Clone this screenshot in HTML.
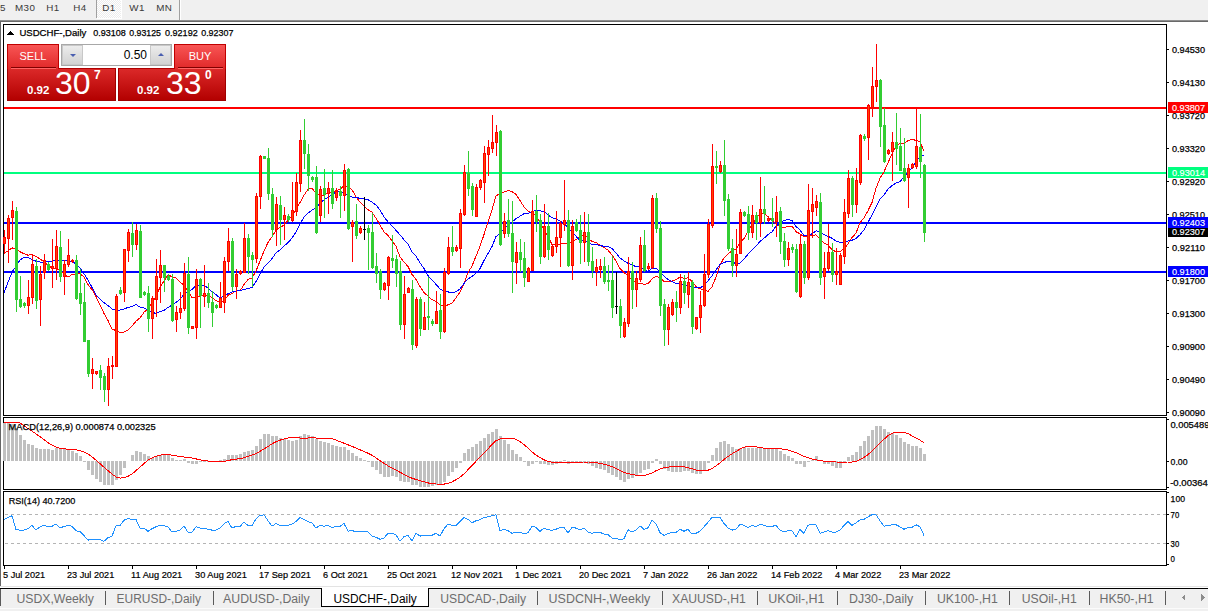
<!DOCTYPE html><html><head><meta charset="utf-8"><style>
*{margin:0;padding:0;box-sizing:border-box}
html,body{width:1208px;height:611px;overflow:hidden;background:#fff}
body{position:relative;font-family:"Liberation Sans",sans-serif}
svg{position:absolute;left:0;top:0}
svg text{font-family:"Liberation Sans",sans-serif}
#tp div{position:absolute}
.sellt{z-index:2;left:7px;top:44px;width:52px;height:25px;background:linear-gradient(#f85555,#e02828);border:1px solid #c00000;border-bottom:none}
.buyt{z-index:2;left:174px;top:44px;width:52px;height:25px;background:linear-gradient(#f85555,#e02828);border:1px solid #c00000;border-bottom:none}
.sellt span,.buyt span{position:absolute;left:0;right:0;top:5px;text-align:center;color:#fff;font-size:11px;line-height:13px}

.sellb{left:7px;top:68px;width:109px;height:33px;background:linear-gradient(#dc2a2a,#b30000);border:1px solid #a00000;border-top:none}
.buyb{left:118px;top:68px;width:108px;height:33px;background:linear-gradient(#dc2a2a,#b30000);border:1px solid #a00000;border-top:none}
.ln{height:1px}
.sm{position:absolute;color:#fff;font-weight:bold;font-size:11.5px;top:16px}
.big{position:absolute;color:#fff;font-size:32px;top:-1px;line-height:32px}
.sup{position:absolute;color:#fff;font-size:12px;font-weight:bold;top:0px}
.sellb .sm{left:19px}.sellb .big{left:47px}.sellb .sup{left:86px}
.buyb .sm{left:18px}.buyb .big{left:47px}.buyb .sup{left:86px}
.lot{left:61px;top:44px;width:111px;height:22px;background:#fff;border:1px solid #a8a8a8}
.dn,.up{top:0;width:21px;height:20px;background:linear-gradient(#ececec,#d2d2d2);border:1px solid #c8c8c8}
.dn{left:0}.up{right:0}
.dn i,.up i{position:absolute;left:7px;top:8px;width:0;height:0;border-left:3px solid transparent;border-right:3px solid transparent}
.dn i{border-top:3px solid #4a5fb0}.up i{border-bottom:3px solid #4a5fb0;top:7px}
.val{right:24px;top:3px;font-size:12px;color:#000}
</style></head><body>
<svg width="1208" height="611" viewBox="0 0 1208 611" shape-rendering="crispEdges">
<rect x="0" y="0" width="1208" height="20" fill="#f0f0f0"/>
<rect x="0" y="20" width="1208" height="1" fill="#8f8f8f"/>
<rect x="0" y="21" width="1208" height="1" fill="#696969"/>
<defs><pattern id="chk" x="0" y="0" width="2" height="2" patternUnits="userSpaceOnUse"><rect width="2" height="2" fill="#ececec"/><rect width="1" height="1" fill="#fff"/><rect x="1" y="1" width="1" height="1" fill="#fff"/></pattern></defs>
<rect x="97" y="0" width="24" height="18" fill="url(#chk)"/>
<rect x="121" y="0" width="1" height="19" fill="#ffffff"/>
<rect x="97" y="18" width="25" height="1" fill="#ffffff"/>
<rect x="96" y="0" width="1" height="18" fill="#a0a0a0"/>
<rect x="179" y="0" width="1" height="20" fill="#a0a0a0"/>
<rect x="180" y="0" width="1" height="20" fill="#ffffff"/>
<text x="-0.09999999999999998" y="11.2" font-size="9.8" fill="#3a3a3a" stroke="#3a3a3a" stroke-width="0" letter-spacing="0.4">5</text>
<text x="15.0" y="11.2" font-size="9.8" fill="#3a3a3a" stroke="#3a3a3a" stroke-width="0" letter-spacing="0.4">M30</text>
<text x="46.199999999999996" y="11.2" font-size="9.8" fill="#3a3a3a" stroke="#3a3a3a" stroke-width="0" letter-spacing="0.4">H1</text>
<text x="73.2" y="11.2" font-size="9.8" fill="#3a3a3a" stroke="#3a3a3a" stroke-width="0" letter-spacing="0.4">H4</text>
<text x="102.2" y="11.2" font-size="9.8" fill="#3a3a3a" stroke="#3a3a3a" stroke-width="0" letter-spacing="0.4">D1</text>
<text x="129.3" y="11.2" font-size="9.8" fill="#3a3a3a" stroke="#3a3a3a" stroke-width="0" letter-spacing="0.4">W1</text>
<text x="156.20000000000002" y="11.2" font-size="9.8" fill="#3a3a3a" stroke="#3a3a3a" stroke-width="0" letter-spacing="0.4">MN</text>
<rect x="0" y="22" width="1" height="564" fill="#666666"/>
<rect x="3" y="24" width="1164" height="1" fill="#000"/>
<rect x="3" y="415" width="1164" height="1" fill="#000"/>
<rect x="3" y="24" width="1" height="392" fill="#000"/>
<rect x="1166" y="24" width="1" height="392" fill="#000"/>
<rect x="3" y="417" width="1164" height="1" fill="#000"/>
<rect x="3" y="489" width="1164" height="1" fill="#000"/>
<rect x="3" y="417" width="1" height="73" fill="#000"/>
<rect x="1166" y="417" width="1" height="73" fill="#000"/>
<rect x="3" y="491" width="1164" height="1" fill="#000"/>
<rect x="3" y="565" width="1164" height="1" fill="#000"/>
<rect x="3" y="491" width="1" height="75" fill="#000"/>
<rect x="1166" y="491" width="1" height="75" fill="#000"/>
<rect x="1167" y="49" width="2" height="1" fill="#000"/>
<text x="1172" y="53" font-size="9.6" fill="#000" stroke="#000" stroke-width="0.25" textLength="33" lengthAdjust="spacingAndGlyphs">0.94530</text>
<rect x="1167" y="82" width="2" height="1" fill="#000"/>
<text x="1172" y="86" font-size="9.6" fill="#000" stroke="#000" stroke-width="0.25" textLength="33" lengthAdjust="spacingAndGlyphs">0.94130</text>
<rect x="1167" y="115" width="2" height="1" fill="#000"/>
<text x="1172" y="119" font-size="9.6" fill="#000" stroke="#000" stroke-width="0.25" textLength="33" lengthAdjust="spacingAndGlyphs">0.93720</text>
<rect x="1167" y="148" width="2" height="1" fill="#000"/>
<text x="1172" y="152" font-size="9.6" fill="#000" stroke="#000" stroke-width="0.25" textLength="33" lengthAdjust="spacingAndGlyphs">0.93320</text>
<rect x="1167" y="181" width="2" height="1" fill="#000"/>
<text x="1172" y="185" font-size="9.6" fill="#000" stroke="#000" stroke-width="0.25" textLength="33" lengthAdjust="spacingAndGlyphs">0.92920</text>
<rect x="1167" y="214" width="2" height="1" fill="#000"/>
<text x="1172" y="218" font-size="9.6" fill="#000" stroke="#000" stroke-width="0.25" textLength="33" lengthAdjust="spacingAndGlyphs">0.92510</text>
<rect x="1167" y="247" width="2" height="1" fill="#000"/>
<text x="1172" y="251" font-size="9.6" fill="#000" stroke="#000" stroke-width="0.25" textLength="33" lengthAdjust="spacingAndGlyphs">0.92110</text>
<rect x="1167" y="280" width="2" height="1" fill="#000"/>
<text x="1172" y="284" font-size="9.6" fill="#000" stroke="#000" stroke-width="0.25" textLength="33" lengthAdjust="spacingAndGlyphs">0.91700</text>
<rect x="1167" y="313" width="2" height="1" fill="#000"/>
<text x="1172" y="317" font-size="9.6" fill="#000" stroke="#000" stroke-width="0.25" textLength="33" lengthAdjust="spacingAndGlyphs">0.91300</text>
<rect x="1167" y="346" width="2" height="1" fill="#000"/>
<text x="1172" y="350" font-size="9.6" fill="#000" stroke="#000" stroke-width="0.25" textLength="33" lengthAdjust="spacingAndGlyphs">0.90900</text>
<rect x="1167" y="379" width="2" height="1" fill="#000"/>
<text x="1172" y="383" font-size="9.6" fill="#000" stroke="#000" stroke-width="0.25" textLength="33" lengthAdjust="spacingAndGlyphs">0.90490</text>
<rect x="1167" y="412" width="2" height="1" fill="#000"/>
<text x="1172" y="416" font-size="9.6" fill="#000" stroke="#000" stroke-width="0.25" textLength="33" lengthAdjust="spacingAndGlyphs">0.90090</text>
<rect x="4" y="107" width="1162" height="2" fill="#ff0000"/>
<rect x="4" y="172" width="1162" height="2" fill="#00ff7f"/>
<rect x="4" y="222" width="1162" height="2" fill="#0000ff"/>
<rect x="4" y="271" width="1162" height="2" fill="#0000ff"/>
<rect x="1168" y="102" width="40" height="11" fill="#ff0000"/>
<text x="1172" y="111" font-size="9.6" fill="#fff" stroke="#fff" stroke-width="0.15" textLength="33" lengthAdjust="spacingAndGlyphs">0.93807</text>
<rect x="1168" y="167" width="40" height="11" fill="#00ff7f"/>
<text x="1172" y="176" font-size="9.6" fill="#fff" stroke="#fff" stroke-width="0.15" textLength="33" lengthAdjust="spacingAndGlyphs">0.93014</text>
<rect x="1168" y="226" width="40" height="11" fill="#000000"/>
<text x="1172" y="235" font-size="9.6" fill="#fff" stroke="#fff" stroke-width="0.15" textLength="33" lengthAdjust="spacingAndGlyphs">0.92307</text>
<rect x="1168" y="217" width="40" height="11" fill="#0000ff"/>
<text x="1172" y="226" font-size="9.6" fill="#fff" stroke="#fff" stroke-width="0.15" textLength="33" lengthAdjust="spacingAndGlyphs">0.92403</text>
<rect x="1168" y="266" width="40" height="11" fill="#0000ff"/>
<text x="1172" y="275" font-size="9.6" fill="#fff" stroke="#fff" stroke-width="0.15" textLength="33" lengthAdjust="spacingAndGlyphs">0.91800</text>
<polyline points="4,253.5 8,250.9 12,247.8 16,249.2 20,251.8 24,253.7 28,255.2 32,254.4 36,256.3 40,258.9 44,261.9 48,265.3 52,268.1 56,268.0 60,270.7 64,274.0 68,277.2 72,274.4 76,273.9 80,273.7 84,276.9 88,284.6 92,289.6 96,296.5 100,304.9 104,313.4 108,320.6 112,329.1 116,330.5 120,332.6 124,332.1 128,330.1 132,326.3 136,321.1 140,317.9 144,312.3 148,308.6 152,303.4 156,296.2 160,287.4 164,281.0 168,274.9 172,276.6 176,277.9 180,282.1 184,285.1 188,291.0 192,297.9 196,296.6 200,296.6 204,294.9 208,295.1 212,297.7 216,300.7 220,302.2 224,300.9 228,295.3 232,293.4 236,291.0 240,290.9 244,284.5 248,279.5 252,278.1 256,271.0 260,261.2 264,250.9 268,242.4 272,236.9 276,230.1 280,227.1 284,225.3 288,220.5 292,215.9 296,209.6 300,202.6 304,195.2 308,189.2 312,188.0 316,193.4 320,195.6 324,195.7 328,192.8 332,192.7 336,190.7 340,189.3 344,185.8 348,187.1 352,189.9 356,196.7 360,202.1 364,205.9 368,209.7 372,212.2 376,218.2 380,225.0 384,231.8 388,235.6 392,240.6 396,246.1 400,257.1 404,261.9 408,266.6 412,274.4 416,279.4 420,286.5 424,292.6 428,296.1 432,299.7 436,301.3 440,304.7 444,305.8 448,304.9 452,303.3 456,297.8 460,292.0 464,283.7 468,272.6 472,266.1 476,256.1 480,246.3 484,234.6 488,222.0 492,209.9 496,195.7 500,193.7 504,191.9 508,190.6 512,191.6 516,194.4 520,200.6 524,206.9 528,211.1 532,212.9 536,215.8 540,223.1 544,228.8 548,236.4 552,244.6 556,244.1 560,244.2 564,243.3 568,243.6 572,241.7 576,239.6 580,237.1 584,234.6 588,238.1 592,241.6 596,242.4 600,245.3 604,247.6 608,250.1 612,255.1 616,261.0 620,268.5 624,272.6 628,275.8 632,280.0 636,282.6 640,283.5 644,284.1 648,283.9 652,278.9 656,276.2 660,277.9 664,281.4 668,281.4 672,281.1 676,279.8 680,276.9 684,278.4 688,277.9 692,281.3 696,286.4 700,288.9 704,289.5 708,291.4 712,286.9 716,277.1 720,265.4 724,257.7 728,253.9 732,250.9 736,248.9 740,243.2 744,238.4 748,231.7 752,224.4 756,218.5 760,213.9 764,213.1 768,216.8 772,220.6 776,223.9 780,226.9 784,227.6 788,226.4 792,226.1 796,231.7 800,233.8 804,237.0 808,236.6 812,235.4 816,234.8 820,239.4 824,242.9 828,245.2 832,249.6 836,251.8 840,251.5 844,248.9 848,243.9 852,237.6 856,233.1 860,222.9 864,217.8 868,210.7 872,202.5 876,188.4 880,178.3 884,171.8 888,162.9 892,153.7 896,146.1 900,143.1 904,143.2 908,140.6 912,139.5 916,140.3 920,141.9 924,151.0" fill="none" stroke="#ff0000" stroke-width="1" shape-rendering="crispEdges"/>
<polyline points="4,292.6 8,282.4 12,272.1 16,266.3 20,259.9 24,257.6 28,257.5 32,259.5 36,261.2 40,262.1 44,262.0 48,261.6 52,261.1 56,260.7 60,260.4 64,260.5 68,260.5 72,261.6 76,263.8 80,267.9 84,273.7 88,280.2 92,287.4 96,295.0 100,298.8 104,302.7 108,305.6 112,308.9 116,310.4 120,310.0 124,308.9 128,307.5 132,306.3 136,304.6 140,307.0 144,307.9 148,310.5 152,312.5 156,313.3 160,311.7 164,310.5 168,307.5 172,305.0 176,302.3 180,299.3 184,294.3 188,291.4 192,289.5 196,285.4 200,285.3 204,285.3 208,287.9 212,291.7 216,294.7 220,297.9 224,296.2 228,293.7 232,292.1 236,291.0 240,290.8 244,289.5 248,288.5 252,287.5 256,281.6 260,274.2 264,267.0 268,263.2 272,258.6 276,252.8 280,249.9 284,246.1 288,242.6 292,238.2 296,232.0 300,224.0 304,217.1 308,213.0 312,210.1 316,207.5 320,203.5 324,199.8 328,197.4 332,194.9 336,191.7 340,191.6 344,192.3 348,195.6 352,197.0 356,197.3 360,198.4 364,198.9 368,199.7 372,202.0 376,205.0 380,210.1 384,216.9 388,221.9 392,225.9 396,230.4 400,234.8 404,239.8 408,244.2 412,251.7 416,256.2 420,262.8 424,268.6 428,275.6 432,280.1 436,284.3 440,288.9 444,291.0 448,291.9 452,292.8 456,291.8 460,289.0 464,283.4 468,278.9 472,276.6 476,273.1 480,268.7 484,260.5 488,253.5 492,246.6 496,236.5 500,233.9 504,228.8 508,224.8 512,222.1 516,218.7 520,216.2 524,213.7 528,213.5 532,211.8 536,210.3 540,210.8 544,211.4 548,215.0 552,217.8 556,219.1 560,220.9 564,222.8 568,228.1 572,231.9 576,236.0 580,241.3 584,240.7 588,242.6 592,244.4 596,244.7 600,245.3 604,246.4 608,246.6 612,248.4 616,253.0 620,257.9 624,261.0 628,263.2 632,265.1 636,266.6 640,267.0 644,269.2 648,271.4 652,268.2 656,268.3 660,271.9 664,276.0 668,279.6 672,281.6 676,283.3 680,284.0 684,285.2 688,285.3 692,287.4 696,287.9 700,287.9 704,285.4 708,280.8 712,275.8 716,270.0 720,264.6 724,262.4 728,261.4 732,261.3 736,264.0 740,263.2 744,259.0 748,254.3 752,250.0 756,246.1 760,241.5 764,238.2 768,234.7 772,231.8 776,226.3 780,222.7 784,220.5 788,219.3 792,220.5 796,226.4 800,230.1 804,235.4 808,235.9 812,233.8 816,230.8 820,231.9 824,234.5 828,236.3 832,238.3 836,241.0 840,242.5 844,242.7 848,241.0 852,240.3 856,238.4 860,234.8 864,229.9 868,222.5 872,214.8 876,206.8 880,198.9 884,195.0 888,188.9 892,185.7 896,183.0 900,181.5 904,176.9 908,172.1 912,168.0 916,161.9 920,156.6 924,155.5" fill="none" stroke="#0000ff" stroke-width="1" shape-rendering="crispEdges"/>
<rect x="4" y="230" width="1" height="24" fill="#ff0000"/>
<rect x="3" y="237" width="3" height="7" fill="#ff0000"/>
<rect x="4" y="238" width="1" height="5" fill="#ff4500"/>
<rect x="8" y="215" width="1" height="48" fill="#ff0000"/>
<rect x="7" y="218" width="3" height="21" fill="#ff0000"/>
<rect x="8" y="219" width="1" height="19" fill="#ff4500"/>
<rect x="12" y="201" width="1" height="39" fill="#ff0000"/>
<rect x="11" y="210" width="3" height="8" fill="#ff0000"/>
<rect x="12" y="211" width="1" height="6" fill="#ff4500"/>
<rect x="16" y="207" width="1" height="105" fill="#32cd32"/>
<rect x="15" y="211" width="3" height="89" fill="#32cd32"/>
<rect x="20" y="276" width="1" height="32" fill="#32cd32"/>
<rect x="19" y="299" width="3" height="8" fill="#32cd32"/>
<rect x="24" y="302" width="1" height="6" fill="#32cd32"/>
<rect x="23" y="303" width="3" height="3" fill="#32cd32"/>
<rect x="28" y="280" width="1" height="34" fill="#ff0000"/>
<rect x="27" y="297" width="3" height="9" fill="#ff0000"/>
<rect x="28" y="298" width="1" height="7" fill="#ff4500"/>
<rect x="32" y="255" width="1" height="49" fill="#ff0000"/>
<rect x="31" y="264" width="3" height="34" fill="#ff0000"/>
<rect x="32" y="265" width="1" height="32" fill="#ff4500"/>
<rect x="36" y="259" width="1" height="50" fill="#32cd32"/>
<rect x="35" y="266" width="3" height="35" fill="#32cd32"/>
<rect x="40" y="266" width="1" height="60" fill="#ff0000"/>
<rect x="39" y="274" width="3" height="26" fill="#ff0000"/>
<rect x="40" y="275" width="1" height="24" fill="#ff4500"/>
<rect x="44" y="254" width="1" height="25" fill="#ff0000"/>
<rect x="43" y="260" width="3" height="13" fill="#ff0000"/>
<rect x="44" y="261" width="1" height="11" fill="#ff4500"/>
<rect x="48" y="262" width="1" height="9" fill="#32cd32"/>
<rect x="47" y="264" width="3" height="6" fill="#32cd32"/>
<rect x="52" y="239" width="1" height="49" fill="#ff0000"/>
<rect x="51" y="266" width="3" height="3" fill="#ff0000"/>
<rect x="52" y="267" width="1" height="1" fill="#ff4500"/>
<rect x="56" y="230" width="1" height="50" fill="#ff0000"/>
<rect x="55" y="246" width="3" height="23" fill="#ff0000"/>
<rect x="56" y="247" width="1" height="21" fill="#ff4500"/>
<rect x="60" y="231" width="1" height="51" fill="#32cd32"/>
<rect x="59" y="247" width="3" height="30" fill="#32cd32"/>
<rect x="64" y="260" width="1" height="35" fill="#ff0000"/>
<rect x="63" y="264" width="3" height="13" fill="#ff0000"/>
<rect x="64" y="265" width="1" height="11" fill="#ff4500"/>
<rect x="68" y="239" width="1" height="28" fill="#ff0000"/>
<rect x="67" y="255" width="3" height="10" fill="#ff0000"/>
<rect x="68" y="256" width="1" height="8" fill="#ff4500"/>
<rect x="72" y="259" width="1" height="4" fill="#ff0000"/>
<rect x="71" y="260" width="3" height="2" fill="#ff0000"/>
<rect x="76" y="255" width="1" height="45" fill="#32cd32"/>
<rect x="75" y="260" width="3" height="39" fill="#32cd32"/>
<rect x="80" y="269" width="1" height="46" fill="#32cd32"/>
<rect x="79" y="293" width="3" height="11" fill="#32cd32"/>
<rect x="84" y="283" width="1" height="59" fill="#32cd32"/>
<rect x="83" y="302" width="3" height="40" fill="#32cd32"/>
<rect x="88" y="340" width="1" height="37" fill="#32cd32"/>
<rect x="87" y="340" width="3" height="34" fill="#32cd32"/>
<rect x="92" y="358" width="1" height="31" fill="#ff0000"/>
<rect x="91" y="369" width="3" height="5" fill="#ff0000"/>
<rect x="92" y="370" width="1" height="3" fill="#ff4500"/>
<rect x="96" y="371" width="1" height="4" fill="#ff0000"/>
<rect x="95" y="371" width="3" height="3" fill="#ff0000"/>
<rect x="96" y="372" width="1" height="1" fill="#ff4500"/>
<rect x="100" y="365" width="1" height="25" fill="#32cd32"/>
<rect x="99" y="370" width="3" height="8" fill="#32cd32"/>
<rect x="104" y="373" width="1" height="29" fill="#32cd32"/>
<rect x="103" y="376" width="3" height="14" fill="#32cd32"/>
<rect x="108" y="358" width="1" height="48" fill="#ff0000"/>
<rect x="107" y="366" width="3" height="24" fill="#ff0000"/>
<rect x="108" y="367" width="1" height="22" fill="#ff4500"/>
<rect x="112" y="356" width="1" height="23" fill="#ff0000"/>
<rect x="111" y="365" width="3" height="2" fill="#ff0000"/>
<rect x="116" y="294" width="1" height="73" fill="#ff0000"/>
<rect x="115" y="296" width="3" height="71" fill="#ff0000"/>
<rect x="116" y="297" width="1" height="69" fill="#ff4500"/>
<rect x="120" y="287" width="1" height="8" fill="#32cd32"/>
<rect x="119" y="290" width="3" height="4" fill="#32cd32"/>
<rect x="124" y="249" width="1" height="53" fill="#ff0000"/>
<rect x="123" y="249" width="3" height="44" fill="#ff0000"/>
<rect x="124" y="250" width="1" height="42" fill="#ff4500"/>
<rect x="128" y="229" width="1" height="33" fill="#ff0000"/>
<rect x="127" y="232" width="3" height="19" fill="#ff0000"/>
<rect x="128" y="233" width="1" height="17" fill="#ff4500"/>
<rect x="132" y="222" width="1" height="35" fill="#32cd32"/>
<rect x="131" y="233" width="3" height="12" fill="#32cd32"/>
<rect x="136" y="224" width="1" height="26" fill="#ff0000"/>
<rect x="135" y="230" width="3" height="15" fill="#ff0000"/>
<rect x="136" y="231" width="1" height="13" fill="#ff4500"/>
<rect x="140" y="225" width="1" height="73" fill="#32cd32"/>
<rect x="139" y="231" width="3" height="67" fill="#32cd32"/>
<rect x="144" y="291" width="1" height="5" fill="#32cd32"/>
<rect x="143" y="292" width="3" height="3" fill="#32cd32"/>
<rect x="148" y="286" width="1" height="46" fill="#32cd32"/>
<rect x="147" y="293" width="3" height="26" fill="#32cd32"/>
<rect x="152" y="296" width="1" height="43" fill="#ff0000"/>
<rect x="151" y="298" width="3" height="21" fill="#ff0000"/>
<rect x="152" y="299" width="1" height="19" fill="#ff4500"/>
<rect x="156" y="259" width="1" height="58" fill="#ff0000"/>
<rect x="155" y="276" width="3" height="24" fill="#ff0000"/>
<rect x="156" y="277" width="1" height="22" fill="#ff4500"/>
<rect x="160" y="250" width="1" height="53" fill="#ff0000"/>
<rect x="159" y="265" width="3" height="13" fill="#ff0000"/>
<rect x="160" y="266" width="1" height="11" fill="#ff4500"/>
<rect x="164" y="265" width="1" height="27" fill="#32cd32"/>
<rect x="163" y="265" width="3" height="13" fill="#32cd32"/>
<rect x="168" y="274" width="1" height="7" fill="#32cd32"/>
<rect x="167" y="276" width="3" height="4" fill="#32cd32"/>
<rect x="172" y="274" width="1" height="48" fill="#32cd32"/>
<rect x="171" y="279" width="3" height="42" fill="#32cd32"/>
<rect x="176" y="306" width="1" height="26" fill="#ff0000"/>
<rect x="175" y="312" width="3" height="8" fill="#ff0000"/>
<rect x="176" y="313" width="1" height="6" fill="#ff4500"/>
<rect x="180" y="292" width="1" height="27" fill="#ff0000"/>
<rect x="179" y="308" width="3" height="5" fill="#ff0000"/>
<rect x="180" y="309" width="1" height="3" fill="#ff4500"/>
<rect x="184" y="263" width="1" height="48" fill="#ff0000"/>
<rect x="183" y="273" width="3" height="36" fill="#ff0000"/>
<rect x="184" y="274" width="1" height="34" fill="#ff4500"/>
<rect x="188" y="257" width="1" height="77" fill="#32cd32"/>
<rect x="187" y="274" width="3" height="54" fill="#32cd32"/>
<rect x="192" y="326" width="1" height="3" fill="#ff0000"/>
<rect x="191" y="326" width="3" height="3" fill="#ff0000"/>
<rect x="192" y="327" width="1" height="1" fill="#ff4500"/>
<rect x="196" y="269" width="1" height="70" fill="#ff0000"/>
<rect x="195" y="279" width="3" height="49" fill="#ff0000"/>
<rect x="196" y="280" width="1" height="47" fill="#ff4500"/>
<rect x="200" y="278" width="1" height="50" fill="#32cd32"/>
<rect x="199" y="279" width="3" height="17" fill="#32cd32"/>
<rect x="204" y="265" width="1" height="42" fill="#ff0000"/>
<rect x="203" y="293" width="3" height="4" fill="#ff0000"/>
<rect x="204" y="294" width="1" height="2" fill="#ff4500"/>
<rect x="208" y="283" width="1" height="25" fill="#32cd32"/>
<rect x="207" y="293" width="3" height="10" fill="#32cd32"/>
<rect x="212" y="291" width="1" height="36" fill="#32cd32"/>
<rect x="211" y="302" width="3" height="11" fill="#32cd32"/>
<rect x="216" y="304" width="1" height="5" fill="#32cd32"/>
<rect x="215" y="305" width="3" height="3" fill="#32cd32"/>
<rect x="220" y="282" width="1" height="26" fill="#ff0000"/>
<rect x="219" y="298" width="3" height="10" fill="#ff0000"/>
<rect x="220" y="299" width="1" height="8" fill="#ff4500"/>
<rect x="224" y="257" width="1" height="56" fill="#ff0000"/>
<rect x="223" y="261" width="3" height="42" fill="#ff0000"/>
<rect x="224" y="262" width="1" height="40" fill="#ff4500"/>
<rect x="228" y="228" width="1" height="43" fill="#ff0000"/>
<rect x="227" y="241" width="3" height="21" fill="#ff0000"/>
<rect x="228" y="242" width="1" height="19" fill="#ff4500"/>
<rect x="232" y="238" width="1" height="53" fill="#32cd32"/>
<rect x="231" y="241" width="3" height="46" fill="#32cd32"/>
<rect x="236" y="269" width="1" height="30" fill="#ff0000"/>
<rect x="235" y="274" width="3" height="13" fill="#ff0000"/>
<rect x="236" y="275" width="1" height="11" fill="#ff4500"/>
<rect x="240" y="270" width="1" height="5" fill="#ff0000"/>
<rect x="239" y="271" width="3" height="3" fill="#ff0000"/>
<rect x="240" y="272" width="1" height="1" fill="#ff4500"/>
<rect x="244" y="223" width="1" height="50" fill="#ff0000"/>
<rect x="243" y="238" width="3" height="35" fill="#ff0000"/>
<rect x="244" y="239" width="1" height="33" fill="#ff4500"/>
<rect x="248" y="234" width="1" height="40" fill="#32cd32"/>
<rect x="247" y="238" width="3" height="19" fill="#32cd32"/>
<rect x="252" y="252" width="1" height="35" fill="#32cd32"/>
<rect x="251" y="255" width="3" height="5" fill="#32cd32"/>
<rect x="256" y="193" width="1" height="70" fill="#ff0000"/>
<rect x="255" y="196" width="3" height="63" fill="#ff0000"/>
<rect x="256" y="197" width="1" height="61" fill="#ff4500"/>
<rect x="260" y="155" width="1" height="54" fill="#ff0000"/>
<rect x="259" y="156" width="3" height="41" fill="#ff0000"/>
<rect x="260" y="157" width="1" height="39" fill="#ff4500"/>
<rect x="264" y="156" width="1" height="3" fill="#32cd32"/>
<rect x="263" y="156" width="3" height="3" fill="#32cd32"/>
<rect x="268" y="148" width="1" height="52" fill="#32cd32"/>
<rect x="267" y="158" width="3" height="36" fill="#32cd32"/>
<rect x="272" y="188" width="1" height="49" fill="#32cd32"/>
<rect x="271" y="194" width="3" height="36" fill="#32cd32"/>
<rect x="276" y="197" width="1" height="49" fill="#ff0000"/>
<rect x="275" y="204" width="3" height="26" fill="#ff0000"/>
<rect x="276" y="205" width="1" height="24" fill="#ff4500"/>
<rect x="280" y="196" width="1" height="49" fill="#32cd32"/>
<rect x="279" y="205" width="3" height="15" fill="#32cd32"/>
<rect x="284" y="207" width="1" height="33" fill="#ff0000"/>
<rect x="283" y="215" width="3" height="5" fill="#ff0000"/>
<rect x="284" y="216" width="1" height="3" fill="#ff4500"/>
<rect x="288" y="214" width="1" height="8" fill="#32cd32"/>
<rect x="287" y="216" width="3" height="4" fill="#32cd32"/>
<rect x="292" y="182" width="1" height="40" fill="#ff0000"/>
<rect x="291" y="210" width="3" height="11" fill="#ff0000"/>
<rect x="292" y="211" width="1" height="9" fill="#ff4500"/>
<rect x="296" y="173" width="1" height="43" fill="#ff0000"/>
<rect x="295" y="182" width="3" height="30" fill="#ff0000"/>
<rect x="296" y="183" width="1" height="28" fill="#ff4500"/>
<rect x="300" y="130" width="1" height="62" fill="#ff0000"/>
<rect x="299" y="140" width="3" height="44" fill="#ff0000"/>
<rect x="300" y="141" width="1" height="42" fill="#ff4500"/>
<rect x="304" y="119" width="1" height="50" fill="#32cd32"/>
<rect x="303" y="140" width="3" height="14" fill="#32cd32"/>
<rect x="308" y="144" width="1" height="47" fill="#32cd32"/>
<rect x="307" y="154" width="3" height="22" fill="#32cd32"/>
<rect x="312" y="176" width="1" height="6" fill="#32cd32"/>
<rect x="311" y="177" width="3" height="3" fill="#32cd32"/>
<rect x="316" y="166" width="1" height="68" fill="#32cd32"/>
<rect x="315" y="177" width="3" height="56" fill="#32cd32"/>
<rect x="320" y="186" width="1" height="36" fill="#ff0000"/>
<rect x="319" y="189" width="3" height="27" fill="#ff0000"/>
<rect x="320" y="190" width="1" height="25" fill="#ff4500"/>
<rect x="324" y="169" width="1" height="49" fill="#32cd32"/>
<rect x="323" y="188" width="3" height="7" fill="#32cd32"/>
<rect x="328" y="182" width="1" height="32" fill="#ff0000"/>
<rect x="327" y="188" width="3" height="6" fill="#ff0000"/>
<rect x="328" y="189" width="1" height="4" fill="#ff4500"/>
<rect x="332" y="170" width="1" height="39" fill="#32cd32"/>
<rect x="331" y="188" width="3" height="16" fill="#32cd32"/>
<rect x="336" y="188" width="1" height="13" fill="#ff0000"/>
<rect x="335" y="191" width="3" height="7" fill="#ff0000"/>
<rect x="336" y="192" width="1" height="5" fill="#ff4500"/>
<rect x="340" y="186" width="1" height="32" fill="#32cd32"/>
<rect x="339" y="191" width="3" height="5" fill="#32cd32"/>
<rect x="344" y="164" width="1" height="47" fill="#ff0000"/>
<rect x="343" y="170" width="3" height="26" fill="#ff0000"/>
<rect x="344" y="171" width="1" height="24" fill="#ff4500"/>
<rect x="348" y="168" width="1" height="62" fill="#32cd32"/>
<rect x="347" y="169" width="3" height="60" fill="#32cd32"/>
<rect x="352" y="220" width="1" height="42" fill="#ff0000"/>
<rect x="351" y="222" width="3" height="5" fill="#ff0000"/>
<rect x="352" y="223" width="1" height="3" fill="#ff4500"/>
<rect x="356" y="204" width="1" height="35" fill="#32cd32"/>
<rect x="355" y="221" width="3" height="15" fill="#32cd32"/>
<rect x="360" y="226" width="1" height="8" fill="#ff0000"/>
<rect x="359" y="228" width="3" height="5" fill="#ff0000"/>
<rect x="360" y="229" width="1" height="3" fill="#ff4500"/>
<rect x="364" y="197" width="1" height="43" fill="#000000"/>
<rect x="363" y="229" width="3" height="1" fill="#000000"/>
<rect x="368" y="225" width="1" height="45" fill="#32cd32"/>
<rect x="367" y="228" width="3" height="5" fill="#32cd32"/>
<rect x="372" y="213" width="1" height="56" fill="#32cd32"/>
<rect x="371" y="232" width="3" height="36" fill="#32cd32"/>
<rect x="376" y="253" width="1" height="30" fill="#32cd32"/>
<rect x="375" y="266" width="3" height="8" fill="#32cd32"/>
<rect x="380" y="269" width="1" height="30" fill="#32cd32"/>
<rect x="379" y="271" width="3" height="19" fill="#32cd32"/>
<rect x="384" y="282" width="1" height="9" fill="#ff0000"/>
<rect x="383" y="283" width="3" height="7" fill="#ff0000"/>
<rect x="384" y="284" width="1" height="5" fill="#ff4500"/>
<rect x="388" y="256" width="1" height="44" fill="#ff0000"/>
<rect x="387" y="257" width="3" height="29" fill="#ff0000"/>
<rect x="388" y="258" width="1" height="27" fill="#ff4500"/>
<rect x="392" y="235" width="1" height="33" fill="#32cd32"/>
<rect x="391" y="258" width="3" height="3" fill="#32cd32"/>
<rect x="396" y="255" width="1" height="32" fill="#32cd32"/>
<rect x="395" y="259" width="3" height="15" fill="#32cd32"/>
<rect x="400" y="261" width="1" height="69" fill="#32cd32"/>
<rect x="399" y="271" width="3" height="54" fill="#32cd32"/>
<rect x="404" y="276" width="1" height="63" fill="#ff0000"/>
<rect x="403" y="294" width="3" height="31" fill="#ff0000"/>
<rect x="404" y="295" width="1" height="29" fill="#ff4500"/>
<rect x="408" y="287" width="1" height="6" fill="#ff0000"/>
<rect x="407" y="288" width="3" height="5" fill="#ff0000"/>
<rect x="408" y="289" width="1" height="3" fill="#ff4500"/>
<rect x="412" y="280" width="1" height="70" fill="#32cd32"/>
<rect x="411" y="289" width="3" height="56" fill="#32cd32"/>
<rect x="416" y="297" width="1" height="51" fill="#ff0000"/>
<rect x="415" y="299" width="3" height="47" fill="#ff0000"/>
<rect x="416" y="300" width="1" height="45" fill="#ff4500"/>
<rect x="420" y="297" width="1" height="39" fill="#32cd32"/>
<rect x="419" y="299" width="3" height="30" fill="#32cd32"/>
<rect x="424" y="302" width="1" height="28" fill="#ff0000"/>
<rect x="423" y="317" width="3" height="13" fill="#ff0000"/>
<rect x="424" y="318" width="1" height="11" fill="#ff4500"/>
<rect x="428" y="277" width="1" height="53" fill="#32cd32"/>
<rect x="427" y="316" width="3" height="2" fill="#32cd32"/>
<rect x="432" y="319" width="1" height="7" fill="#32cd32"/>
<rect x="431" y="321" width="3" height="3" fill="#32cd32"/>
<rect x="436" y="291" width="1" height="33" fill="#ff0000"/>
<rect x="435" y="311" width="3" height="13" fill="#ff0000"/>
<rect x="436" y="312" width="1" height="11" fill="#ff4500"/>
<rect x="440" y="294" width="1" height="45" fill="#32cd32"/>
<rect x="439" y="310" width="3" height="22" fill="#32cd32"/>
<rect x="444" y="268" width="1" height="65" fill="#ff0000"/>
<rect x="443" y="272" width="3" height="60" fill="#ff0000"/>
<rect x="444" y="273" width="1" height="58" fill="#ff4500"/>
<rect x="448" y="237" width="1" height="38" fill="#ff0000"/>
<rect x="447" y="247" width="3" height="27" fill="#ff0000"/>
<rect x="448" y="248" width="1" height="25" fill="#ff4500"/>
<rect x="452" y="226" width="1" height="30" fill="#32cd32"/>
<rect x="451" y="247" width="3" height="5" fill="#32cd32"/>
<rect x="456" y="245" width="1" height="7" fill="#ff0000"/>
<rect x="455" y="247" width="3" height="4" fill="#ff0000"/>
<rect x="456" y="248" width="1" height="2" fill="#ff4500"/>
<rect x="460" y="209" width="1" height="59" fill="#ff0000"/>
<rect x="459" y="213" width="3" height="36" fill="#ff0000"/>
<rect x="460" y="214" width="1" height="34" fill="#ff4500"/>
<rect x="464" y="165" width="1" height="51" fill="#ff0000"/>
<rect x="463" y="172" width="3" height="43" fill="#ff0000"/>
<rect x="464" y="173" width="1" height="41" fill="#ff4500"/>
<rect x="468" y="151" width="1" height="45" fill="#32cd32"/>
<rect x="467" y="173" width="3" height="16" fill="#32cd32"/>
<rect x="472" y="183" width="1" height="33" fill="#32cd32"/>
<rect x="471" y="186" width="3" height="24" fill="#32cd32"/>
<rect x="476" y="184" width="1" height="33" fill="#ff0000"/>
<rect x="475" y="187" width="3" height="30" fill="#ff0000"/>
<rect x="476" y="188" width="1" height="28" fill="#ff4500"/>
<rect x="480" y="179" width="1" height="11" fill="#ff0000"/>
<rect x="479" y="180" width="3" height="8" fill="#ff0000"/>
<rect x="480" y="181" width="1" height="6" fill="#ff4500"/>
<rect x="484" y="146" width="1" height="57" fill="#ff0000"/>
<rect x="483" y="153" width="3" height="30" fill="#ff0000"/>
<rect x="484" y="154" width="1" height="28" fill="#ff4500"/>
<rect x="488" y="140" width="1" height="36" fill="#ff0000"/>
<rect x="487" y="147" width="3" height="8" fill="#ff0000"/>
<rect x="488" y="148" width="1" height="6" fill="#ff4500"/>
<rect x="492" y="115" width="1" height="38" fill="#ff0000"/>
<rect x="491" y="142" width="3" height="7" fill="#ff0000"/>
<rect x="492" y="143" width="1" height="5" fill="#ff4500"/>
<rect x="496" y="125" width="1" height="31" fill="#ff0000"/>
<rect x="495" y="132" width="3" height="11" fill="#ff0000"/>
<rect x="496" y="133" width="1" height="9" fill="#ff4500"/>
<rect x="500" y="130" width="1" height="116" fill="#32cd32"/>
<rect x="499" y="131" width="3" height="114" fill="#32cd32"/>
<rect x="504" y="213" width="1" height="25" fill="#ff0000"/>
<rect x="503" y="221" width="3" height="13" fill="#ff0000"/>
<rect x="504" y="222" width="1" height="11" fill="#ff4500"/>
<rect x="508" y="199" width="1" height="38" fill="#32cd32"/>
<rect x="507" y="220" width="3" height="14" fill="#32cd32"/>
<rect x="512" y="201" width="1" height="92" fill="#32cd32"/>
<rect x="511" y="233" width="3" height="29" fill="#32cd32"/>
<rect x="516" y="242" width="1" height="42" fill="#ff0000"/>
<rect x="515" y="252" width="3" height="11" fill="#ff0000"/>
<rect x="516" y="253" width="1" height="9" fill="#ff4500"/>
<rect x="520" y="239" width="1" height="33" fill="#32cd32"/>
<rect x="519" y="252" width="3" height="8" fill="#32cd32"/>
<rect x="524" y="242" width="1" height="45" fill="#32cd32"/>
<rect x="523" y="258" width="3" height="20" fill="#32cd32"/>
<rect x="528" y="267" width="1" height="15" fill="#ff0000"/>
<rect x="527" y="268" width="3" height="14" fill="#ff0000"/>
<rect x="528" y="269" width="1" height="12" fill="#ff4500"/>
<rect x="532" y="200" width="1" height="71" fill="#ff0000"/>
<rect x="531" y="211" width="3" height="60" fill="#ff0000"/>
<rect x="532" y="212" width="1" height="58" fill="#ff4500"/>
<rect x="536" y="195" width="1" height="37" fill="#32cd32"/>
<rect x="535" y="211" width="3" height="11" fill="#32cd32"/>
<rect x="540" y="214" width="1" height="50" fill="#32cd32"/>
<rect x="539" y="220" width="3" height="37" fill="#32cd32"/>
<rect x="544" y="204" width="1" height="54" fill="#ff0000"/>
<rect x="543" y="226" width="3" height="31" fill="#ff0000"/>
<rect x="544" y="227" width="1" height="29" fill="#ff4500"/>
<rect x="548" y="213" width="1" height="47" fill="#32cd32"/>
<rect x="547" y="226" width="3" height="24" fill="#32cd32"/>
<rect x="552" y="244" width="1" height="13" fill="#ff0000"/>
<rect x="551" y="246" width="3" height="10" fill="#ff0000"/>
<rect x="552" y="247" width="1" height="8" fill="#ff4500"/>
<rect x="556" y="211" width="1" height="42" fill="#ff0000"/>
<rect x="555" y="237" width="3" height="10" fill="#ff0000"/>
<rect x="556" y="238" width="1" height="8" fill="#ff4500"/>
<rect x="560" y="221" width="1" height="46" fill="#ff0000"/>
<rect x="559" y="223" width="3" height="15" fill="#ff0000"/>
<rect x="560" y="224" width="1" height="13" fill="#ff4500"/>
<rect x="564" y="180" width="1" height="51" fill="#ff0000"/>
<rect x="563" y="220" width="3" height="5" fill="#ff0000"/>
<rect x="564" y="221" width="1" height="3" fill="#ff4500"/>
<rect x="568" y="210" width="1" height="57" fill="#32cd32"/>
<rect x="567" y="220" width="3" height="46" fill="#32cd32"/>
<rect x="572" y="220" width="1" height="60" fill="#ff0000"/>
<rect x="571" y="226" width="3" height="40" fill="#ff0000"/>
<rect x="572" y="227" width="1" height="38" fill="#ff4500"/>
<rect x="576" y="219" width="1" height="13" fill="#32cd32"/>
<rect x="575" y="222" width="3" height="9" fill="#32cd32"/>
<rect x="580" y="215" width="1" height="49" fill="#32cd32"/>
<rect x="579" y="230" width="3" height="13" fill="#32cd32"/>
<rect x="584" y="212" width="1" height="50" fill="#ff0000"/>
<rect x="583" y="232" width="3" height="11" fill="#ff0000"/>
<rect x="584" y="233" width="1" height="9" fill="#ff4500"/>
<rect x="588" y="214" width="1" height="52" fill="#32cd32"/>
<rect x="587" y="232" width="3" height="30" fill="#32cd32"/>
<rect x="592" y="247" width="1" height="31" fill="#32cd32"/>
<rect x="591" y="261" width="3" height="10" fill="#32cd32"/>
<rect x="596" y="259" width="1" height="27" fill="#ff0000"/>
<rect x="595" y="267" width="3" height="5" fill="#ff0000"/>
<rect x="596" y="268" width="1" height="3" fill="#ff4500"/>
<rect x="600" y="259" width="1" height="19" fill="#ff0000"/>
<rect x="599" y="266" width="3" height="4" fill="#ff0000"/>
<rect x="600" y="267" width="1" height="2" fill="#ff4500"/>
<rect x="604" y="257" width="1" height="27" fill="#32cd32"/>
<rect x="603" y="266" width="3" height="16" fill="#32cd32"/>
<rect x="608" y="265" width="1" height="26" fill="#32cd32"/>
<rect x="607" y="280" width="3" height="2" fill="#32cd32"/>
<rect x="612" y="256" width="1" height="62" fill="#32cd32"/>
<rect x="611" y="280" width="3" height="28" fill="#32cd32"/>
<rect x="616" y="272" width="1" height="42" fill="#000000"/>
<rect x="615" y="306" width="3" height="1" fill="#000000"/>
<rect x="620" y="299" width="1" height="39" fill="#32cd32"/>
<rect x="619" y="306" width="3" height="20" fill="#32cd32"/>
<rect x="624" y="318" width="1" height="20" fill="#ff0000"/>
<rect x="623" y="322" width="3" height="15" fill="#ff0000"/>
<rect x="624" y="323" width="1" height="13" fill="#ff4500"/>
<rect x="628" y="257" width="1" height="70" fill="#ff0000"/>
<rect x="627" y="271" width="3" height="53" fill="#ff0000"/>
<rect x="628" y="272" width="1" height="51" fill="#ff4500"/>
<rect x="632" y="262" width="1" height="47" fill="#32cd32"/>
<rect x="631" y="271" width="3" height="19" fill="#32cd32"/>
<rect x="636" y="271" width="1" height="36" fill="#ff0000"/>
<rect x="635" y="278" width="3" height="12" fill="#ff0000"/>
<rect x="636" y="279" width="1" height="10" fill="#ff4500"/>
<rect x="640" y="237" width="1" height="45" fill="#ff0000"/>
<rect x="639" y="245" width="3" height="35" fill="#ff0000"/>
<rect x="640" y="246" width="1" height="33" fill="#ff4500"/>
<rect x="644" y="230" width="1" height="42" fill="#32cd32"/>
<rect x="643" y="245" width="3" height="26" fill="#32cd32"/>
<rect x="648" y="263" width="1" height="7" fill="#ff0000"/>
<rect x="647" y="266" width="3" height="3" fill="#ff0000"/>
<rect x="648" y="267" width="1" height="1" fill="#ff4500"/>
<rect x="652" y="195" width="1" height="74" fill="#ff0000"/>
<rect x="651" y="198" width="3" height="70" fill="#ff0000"/>
<rect x="652" y="199" width="1" height="68" fill="#ff4500"/>
<rect x="656" y="193" width="1" height="40" fill="#32cd32"/>
<rect x="655" y="198" width="3" height="31" fill="#32cd32"/>
<rect x="660" y="221" width="1" height="95" fill="#32cd32"/>
<rect x="659" y="228" width="3" height="78" fill="#32cd32"/>
<rect x="664" y="299" width="1" height="47" fill="#32cd32"/>
<rect x="663" y="304" width="3" height="26" fill="#32cd32"/>
<rect x="668" y="304" width="1" height="41" fill="#ff0000"/>
<rect x="667" y="307" width="3" height="23" fill="#ff0000"/>
<rect x="668" y="308" width="1" height="21" fill="#ff4500"/>
<rect x="672" y="299" width="1" height="17" fill="#ff0000"/>
<rect x="671" y="302" width="3" height="13" fill="#ff0000"/>
<rect x="672" y="303" width="1" height="11" fill="#ff4500"/>
<rect x="676" y="291" width="1" height="31" fill="#32cd32"/>
<rect x="675" y="302" width="3" height="6" fill="#32cd32"/>
<rect x="680" y="274" width="1" height="40" fill="#ff0000"/>
<rect x="679" y="281" width="3" height="27" fill="#ff0000"/>
<rect x="680" y="282" width="1" height="25" fill="#ff4500"/>
<rect x="684" y="275" width="1" height="29" fill="#32cd32"/>
<rect x="683" y="281" width="3" height="12" fill="#32cd32"/>
<rect x="688" y="272" width="1" height="36" fill="#ff0000"/>
<rect x="687" y="282" width="3" height="13" fill="#ff0000"/>
<rect x="688" y="283" width="1" height="11" fill="#ff4500"/>
<rect x="692" y="280" width="1" height="54" fill="#32cd32"/>
<rect x="691" y="282" width="3" height="45" fill="#32cd32"/>
<rect x="696" y="317" width="1" height="13" fill="#ff0000"/>
<rect x="695" y="317" width="3" height="12" fill="#ff0000"/>
<rect x="696" y="318" width="1" height="10" fill="#ff4500"/>
<rect x="700" y="291" width="1" height="42" fill="#ff0000"/>
<rect x="699" y="305" width="3" height="13" fill="#ff0000"/>
<rect x="700" y="306" width="1" height="11" fill="#ff4500"/>
<rect x="704" y="254" width="1" height="53" fill="#ff0000"/>
<rect x="703" y="274" width="3" height="32" fill="#ff0000"/>
<rect x="704" y="275" width="1" height="30" fill="#ff4500"/>
<rect x="708" y="219" width="1" height="59" fill="#ff0000"/>
<rect x="707" y="224" width="3" height="51" fill="#ff0000"/>
<rect x="708" y="225" width="1" height="49" fill="#ff4500"/>
<rect x="712" y="144" width="1" height="84" fill="#ff0000"/>
<rect x="711" y="166" width="3" height="60" fill="#ff0000"/>
<rect x="712" y="167" width="1" height="58" fill="#ff4500"/>
<rect x="716" y="151" width="1" height="33" fill="#32cd32"/>
<rect x="715" y="166" width="3" height="2" fill="#32cd32"/>
<rect x="720" y="161" width="1" height="12" fill="#ff0000"/>
<rect x="719" y="165" width="3" height="7" fill="#ff0000"/>
<rect x="720" y="166" width="1" height="5" fill="#ff4500"/>
<rect x="724" y="140" width="1" height="76" fill="#32cd32"/>
<rect x="723" y="165" width="3" height="36" fill="#32cd32"/>
<rect x="728" y="194" width="1" height="57" fill="#32cd32"/>
<rect x="727" y="199" width="3" height="50" fill="#32cd32"/>
<rect x="732" y="239" width="1" height="38" fill="#32cd32"/>
<rect x="731" y="248" width="3" height="18" fill="#32cd32"/>
<rect x="736" y="229" width="1" height="48" fill="#ff0000"/>
<rect x="735" y="254" width="3" height="12" fill="#ff0000"/>
<rect x="736" y="255" width="1" height="10" fill="#ff4500"/>
<rect x="740" y="209" width="1" height="45" fill="#ff0000"/>
<rect x="739" y="212" width="3" height="42" fill="#ff0000"/>
<rect x="740" y="213" width="1" height="40" fill="#ff4500"/>
<rect x="744" y="211" width="1" height="6" fill="#32cd32"/>
<rect x="743" y="212" width="3" height="4" fill="#32cd32"/>
<rect x="748" y="206" width="1" height="34" fill="#32cd32"/>
<rect x="747" y="214" width="3" height="19" fill="#32cd32"/>
<rect x="752" y="205" width="1" height="33" fill="#ff0000"/>
<rect x="751" y="215" width="3" height="18" fill="#ff0000"/>
<rect x="752" y="216" width="1" height="16" fill="#ff4500"/>
<rect x="756" y="212" width="1" height="28" fill="#32cd32"/>
<rect x="755" y="215" width="3" height="8" fill="#32cd32"/>
<rect x="760" y="177" width="1" height="60" fill="#ff0000"/>
<rect x="759" y="209" width="3" height="14" fill="#ff0000"/>
<rect x="760" y="210" width="1" height="12" fill="#ff4500"/>
<rect x="764" y="186" width="1" height="38" fill="#32cd32"/>
<rect x="763" y="209" width="3" height="5" fill="#32cd32"/>
<rect x="768" y="216" width="1" height="6" fill="#ff0000"/>
<rect x="767" y="218" width="3" height="3" fill="#ff0000"/>
<rect x="768" y="219" width="1" height="1" fill="#ff4500"/>
<rect x="772" y="198" width="1" height="29" fill="#32cd32"/>
<rect x="771" y="218" width="3" height="3" fill="#32cd32"/>
<rect x="776" y="196" width="1" height="41" fill="#ff0000"/>
<rect x="775" y="212" width="3" height="10" fill="#ff0000"/>
<rect x="776" y="213" width="1" height="8" fill="#ff4500"/>
<rect x="780" y="207" width="1" height="47" fill="#32cd32"/>
<rect x="779" y="211" width="3" height="31" fill="#32cd32"/>
<rect x="784" y="233" width="1" height="34" fill="#32cd32"/>
<rect x="783" y="241" width="3" height="19" fill="#32cd32"/>
<rect x="788" y="242" width="1" height="24" fill="#ff0000"/>
<rect x="787" y="248" width="3" height="12" fill="#ff0000"/>
<rect x="788" y="249" width="1" height="10" fill="#ff4500"/>
<rect x="792" y="244" width="1" height="9" fill="#32cd32"/>
<rect x="791" y="247" width="3" height="3" fill="#32cd32"/>
<rect x="796" y="244" width="1" height="49" fill="#32cd32"/>
<rect x="795" y="249" width="3" height="43" fill="#32cd32"/>
<rect x="800" y="235" width="1" height="63" fill="#ff0000"/>
<rect x="799" y="244" width="3" height="53" fill="#ff0000"/>
<rect x="800" y="245" width="1" height="51" fill="#ff4500"/>
<rect x="804" y="241" width="1" height="43" fill="#32cd32"/>
<rect x="803" y="244" width="3" height="34" fill="#32cd32"/>
<rect x="808" y="184" width="1" height="96" fill="#ff0000"/>
<rect x="807" y="210" width="3" height="68" fill="#ff0000"/>
<rect x="808" y="211" width="1" height="66" fill="#ff4500"/>
<rect x="812" y="188" width="1" height="50" fill="#ff0000"/>
<rect x="811" y="204" width="3" height="8" fill="#ff0000"/>
<rect x="812" y="205" width="1" height="6" fill="#ff4500"/>
<rect x="816" y="195" width="1" height="21" fill="#ff0000"/>
<rect x="815" y="201" width="3" height="7" fill="#ff0000"/>
<rect x="816" y="202" width="1" height="5" fill="#ff4500"/>
<rect x="820" y="193" width="1" height="92" fill="#32cd32"/>
<rect x="819" y="202" width="3" height="76" fill="#32cd32"/>
<rect x="824" y="252" width="1" height="47" fill="#ff0000"/>
<rect x="823" y="268" width="3" height="9" fill="#ff0000"/>
<rect x="824" y="269" width="1" height="7" fill="#ff4500"/>
<rect x="828" y="224" width="1" height="47" fill="#ff0000"/>
<rect x="827" y="252" width="3" height="17" fill="#ff0000"/>
<rect x="828" y="253" width="1" height="15" fill="#ff4500"/>
<rect x="832" y="243" width="1" height="39" fill="#32cd32"/>
<rect x="831" y="252" width="3" height="23" fill="#32cd32"/>
<rect x="836" y="248" width="1" height="37" fill="#ff0000"/>
<rect x="835" y="271" width="3" height="4" fill="#ff0000"/>
<rect x="836" y="272" width="1" height="2" fill="#ff4500"/>
<rect x="840" y="253" width="1" height="32" fill="#ff0000"/>
<rect x="839" y="255" width="3" height="30" fill="#ff0000"/>
<rect x="840" y="256" width="1" height="28" fill="#ff4500"/>
<rect x="844" y="199" width="1" height="65" fill="#ff0000"/>
<rect x="843" y="212" width="3" height="45" fill="#ff0000"/>
<rect x="844" y="213" width="1" height="43" fill="#ff4500"/>
<rect x="848" y="170" width="1" height="48" fill="#ff0000"/>
<rect x="847" y="178" width="3" height="36" fill="#ff0000"/>
<rect x="848" y="179" width="1" height="34" fill="#ff4500"/>
<rect x="852" y="176" width="1" height="41" fill="#32cd32"/>
<rect x="851" y="178" width="3" height="27" fill="#32cd32"/>
<rect x="856" y="168" width="1" height="45" fill="#ff0000"/>
<rect x="855" y="180" width="3" height="25" fill="#ff0000"/>
<rect x="856" y="181" width="1" height="23" fill="#ff4500"/>
<rect x="860" y="134" width="1" height="51" fill="#ff0000"/>
<rect x="859" y="135" width="3" height="48" fill="#ff0000"/>
<rect x="860" y="136" width="1" height="46" fill="#ff4500"/>
<rect x="864" y="134" width="1" height="7" fill="#32cd32"/>
<rect x="863" y="136" width="3" height="3" fill="#32cd32"/>
<rect x="868" y="104" width="1" height="56" fill="#ff0000"/>
<rect x="867" y="105" width="3" height="33" fill="#ff0000"/>
<rect x="868" y="106" width="1" height="31" fill="#ff4500"/>
<rect x="872" y="67" width="1" height="50" fill="#ff0000"/>
<rect x="871" y="86" width="3" height="22" fill="#ff0000"/>
<rect x="872" y="87" width="1" height="20" fill="#ff4500"/>
<rect x="876" y="44" width="1" height="58" fill="#ff0000"/>
<rect x="875" y="80" width="3" height="7" fill="#ff0000"/>
<rect x="876" y="81" width="1" height="5" fill="#ff4500"/>
<rect x="880" y="79" width="1" height="68" fill="#32cd32"/>
<rect x="879" y="80" width="3" height="47" fill="#32cd32"/>
<rect x="884" y="108" width="1" height="55" fill="#32cd32"/>
<rect x="883" y="125" width="3" height="37" fill="#32cd32"/>
<rect x="888" y="149" width="1" height="6" fill="#ff0000"/>
<rect x="887" y="150" width="3" height="4" fill="#ff0000"/>
<rect x="888" y="151" width="1" height="2" fill="#ff4500"/>
<rect x="892" y="132" width="1" height="49" fill="#ff0000"/>
<rect x="891" y="142" width="3" height="10" fill="#ff0000"/>
<rect x="892" y="143" width="1" height="8" fill="#ff4500"/>
<rect x="896" y="113" width="1" height="52" fill="#32cd32"/>
<rect x="895" y="142" width="3" height="7" fill="#32cd32"/>
<rect x="900" y="128" width="1" height="43" fill="#32cd32"/>
<rect x="899" y="146" width="3" height="25" fill="#32cd32"/>
<rect x="904" y="138" width="1" height="44" fill="#32cd32"/>
<rect x="903" y="168" width="3" height="13" fill="#32cd32"/>
<rect x="908" y="164" width="1" height="44" fill="#ff0000"/>
<rect x="907" y="168" width="3" height="10" fill="#ff0000"/>
<rect x="908" y="169" width="1" height="8" fill="#ff4500"/>
<rect x="912" y="163" width="1" height="6" fill="#ff0000"/>
<rect x="911" y="164" width="3" height="4" fill="#ff0000"/>
<rect x="912" y="165" width="1" height="2" fill="#ff4500"/>
<rect x="916" y="108" width="1" height="61" fill="#ff0000"/>
<rect x="915" y="146" width="3" height="21" fill="#ff0000"/>
<rect x="916" y="147" width="1" height="19" fill="#ff4500"/>
<rect x="920" y="114" width="1" height="64" fill="#32cd32"/>
<rect x="919" y="147" width="3" height="15" fill="#32cd32"/>
<rect x="924" y="164" width="1" height="78" fill="#32cd32"/>
<rect x="923" y="165" width="3" height="68" fill="#32cd32"/>
<path d="M7,34.5 L10.5,30.5 L14,34.5 Z" fill="#000"/>
<text x="19.4" y="36" font-size="9.8" fill="#000" stroke="#000" stroke-width="0.25" textLength="67" lengthAdjust="spacingAndGlyphs">USDCHF-,Daily</text>
<text x="93.2" y="36" font-size="9.8" fill="#000" stroke="#000" stroke-width="0.25" textLength="32.5" lengthAdjust="spacingAndGlyphs">0.93108</text>
<text x="129.3" y="36" font-size="9.8" fill="#000" stroke="#000" stroke-width="0.25" textLength="31.7" lengthAdjust="spacingAndGlyphs">0.93125</text>
<text x="165" y="36" font-size="9.8" fill="#000" stroke="#000" stroke-width="0.25" textLength="32.7" lengthAdjust="spacingAndGlyphs">0.92192</text>
<text x="201.2" y="36" font-size="9.8" fill="#000" stroke="#000" stroke-width="0.25" textLength="32.2" lengthAdjust="spacingAndGlyphs">0.92307</text>
<rect x="3" y="423" width="3" height="38" fill="#c0c0c0"/>
<rect x="7" y="423" width="3" height="38" fill="#c0c0c0"/>
<rect x="11" y="424" width="3" height="37" fill="#c0c0c0"/>
<rect x="15" y="428" width="3" height="33" fill="#c0c0c0"/>
<rect x="19" y="435" width="3" height="26" fill="#c0c0c0"/>
<rect x="23" y="440" width="3" height="21" fill="#c0c0c0"/>
<rect x="27" y="444" width="3" height="17" fill="#c0c0c0"/>
<rect x="31" y="445" width="3" height="16" fill="#c0c0c0"/>
<rect x="35" y="448" width="3" height="13" fill="#c0c0c0"/>
<rect x="39" y="449" width="3" height="12" fill="#c0c0c0"/>
<rect x="43" y="449" width="3" height="12" fill="#c0c0c0"/>
<rect x="47" y="449" width="3" height="12" fill="#c0c0c0"/>
<rect x="51" y="450" width="3" height="11" fill="#c0c0c0"/>
<rect x="55" y="448" width="3" height="13" fill="#c0c0c0"/>
<rect x="59" y="449" width="3" height="12" fill="#c0c0c0"/>
<rect x="63" y="449" width="3" height="12" fill="#c0c0c0"/>
<rect x="67" y="449" width="3" height="12" fill="#c0c0c0"/>
<rect x="71" y="451" width="3" height="10" fill="#c0c0c0"/>
<rect x="75" y="453" width="3" height="8" fill="#c0c0c0"/>
<rect x="79" y="456" width="3" height="5" fill="#c0c0c0"/>
<rect x="83" y="461" width="3" height="1" fill="#c0c0c0"/>
<rect x="87" y="461" width="3" height="9" fill="#c0c0c0"/>
<rect x="91" y="461" width="3" height="14" fill="#c0c0c0"/>
<rect x="95" y="461" width="3" height="18" fill="#c0c0c0"/>
<rect x="99" y="461" width="3" height="21" fill="#c0c0c0"/>
<rect x="103" y="461" width="3" height="24" fill="#c0c0c0"/>
<rect x="107" y="461" width="3" height="24" fill="#c0c0c0"/>
<rect x="111" y="461" width="3" height="24" fill="#c0c0c0"/>
<rect x="115" y="461" width="3" height="19" fill="#c0c0c0"/>
<rect x="119" y="461" width="3" height="14" fill="#c0c0c0"/>
<rect x="123" y="461" width="3" height="7" fill="#c0c0c0"/>
<rect x="131" y="455" width="3" height="6" fill="#c0c0c0"/>
<rect x="135" y="451" width="3" height="10" fill="#c0c0c0"/>
<rect x="139" y="452" width="3" height="9" fill="#c0c0c0"/>
<rect x="143" y="454" width="3" height="7" fill="#c0c0c0"/>
<rect x="147" y="456" width="3" height="5" fill="#c0c0c0"/>
<rect x="151" y="458" width="3" height="3" fill="#c0c0c0"/>
<rect x="155" y="456" width="3" height="5" fill="#c0c0c0"/>
<rect x="159" y="455" width="3" height="6" fill="#c0c0c0"/>
<rect x="163" y="455" width="3" height="6" fill="#c0c0c0"/>
<rect x="167" y="455" width="3" height="6" fill="#c0c0c0"/>
<rect x="171" y="458" width="3" height="3" fill="#c0c0c0"/>
<rect x="175" y="460" width="3" height="1" fill="#c0c0c0"/>
<rect x="179" y="460" width="3" height="1" fill="#c0c0c0"/>
<rect x="183" y="459" width="3" height="2" fill="#c0c0c0"/>
<rect x="187" y="461" width="3" height="2" fill="#c0c0c0"/>
<rect x="191" y="461" width="3" height="3" fill="#c0c0c0"/>
<rect x="195" y="461" width="3" height="3" fill="#c0c0c0"/>
<rect x="199" y="461" width="3" height="1" fill="#c0c0c0"/>
<rect x="203" y="461" width="3" height="1" fill="#c0c0c0"/>
<rect x="207" y="461" width="3" height="1" fill="#c0c0c0"/>
<rect x="211" y="461" width="3" height="1" fill="#c0c0c0"/>
<rect x="215" y="461" width="3" height="1" fill="#c0c0c0"/>
<rect x="219" y="460" width="3" height="1" fill="#c0c0c0"/>
<rect x="223" y="459" width="3" height="2" fill="#c0c0c0"/>
<rect x="227" y="455" width="3" height="6" fill="#c0c0c0"/>
<rect x="231" y="455" width="3" height="6" fill="#c0c0c0"/>
<rect x="235" y="455" width="3" height="6" fill="#c0c0c0"/>
<rect x="239" y="454" width="3" height="7" fill="#c0c0c0"/>
<rect x="243" y="452" width="3" height="9" fill="#c0c0c0"/>
<rect x="247" y="451" width="3" height="10" fill="#c0c0c0"/>
<rect x="251" y="450" width="3" height="11" fill="#c0c0c0"/>
<rect x="255" y="446" width="3" height="15" fill="#c0c0c0"/>
<rect x="259" y="439" width="3" height="22" fill="#c0c0c0"/>
<rect x="263" y="434" width="3" height="27" fill="#c0c0c0"/>
<rect x="267" y="434" width="3" height="27" fill="#c0c0c0"/>
<rect x="271" y="436" width="3" height="25" fill="#c0c0c0"/>
<rect x="275" y="436" width="3" height="25" fill="#c0c0c0"/>
<rect x="279" y="438" width="3" height="23" fill="#c0c0c0"/>
<rect x="283" y="439" width="3" height="22" fill="#c0c0c0"/>
<rect x="287" y="440" width="3" height="21" fill="#c0c0c0"/>
<rect x="291" y="441" width="3" height="20" fill="#c0c0c0"/>
<rect x="295" y="440" width="3" height="21" fill="#c0c0c0"/>
<rect x="299" y="436" width="3" height="25" fill="#c0c0c0"/>
<rect x="303" y="434" width="3" height="27" fill="#c0c0c0"/>
<rect x="307" y="435" width="3" height="26" fill="#c0c0c0"/>
<rect x="311" y="436" width="3" height="25" fill="#c0c0c0"/>
<rect x="315" y="439" width="3" height="22" fill="#c0c0c0"/>
<rect x="319" y="441" width="3" height="20" fill="#c0c0c0"/>
<rect x="323" y="442" width="3" height="19" fill="#c0c0c0"/>
<rect x="327" y="443" width="3" height="18" fill="#c0c0c0"/>
<rect x="331" y="445" width="3" height="16" fill="#c0c0c0"/>
<rect x="335" y="446" width="3" height="15" fill="#c0c0c0"/>
<rect x="339" y="447" width="3" height="14" fill="#c0c0c0"/>
<rect x="343" y="447" width="3" height="14" fill="#c0c0c0"/>
<rect x="347" y="450" width="3" height="11" fill="#c0c0c0"/>
<rect x="351" y="453" width="3" height="8" fill="#c0c0c0"/>
<rect x="355" y="456" width="3" height="5" fill="#c0c0c0"/>
<rect x="359" y="458" width="3" height="3" fill="#c0c0c0"/>
<rect x="363" y="460" width="3" height="1" fill="#c0c0c0"/>
<rect x="367" y="461" width="3" height="1" fill="#c0c0c0"/>
<rect x="371" y="461" width="3" height="6" fill="#c0c0c0"/>
<rect x="375" y="461" width="3" height="9" fill="#c0c0c0"/>
<rect x="379" y="461" width="3" height="13" fill="#c0c0c0"/>
<rect x="383" y="461" width="3" height="16" fill="#c0c0c0"/>
<rect x="387" y="461" width="3" height="16" fill="#c0c0c0"/>
<rect x="391" y="461" width="3" height="15" fill="#c0c0c0"/>
<rect x="395" y="461" width="3" height="16" fill="#c0c0c0"/>
<rect x="399" y="461" width="3" height="20" fill="#c0c0c0"/>
<rect x="403" y="461" width="3" height="21" fill="#c0c0c0"/>
<rect x="407" y="461" width="3" height="21" fill="#c0c0c0"/>
<rect x="411" y="461" width="3" height="24" fill="#c0c0c0"/>
<rect x="415" y="461" width="3" height="24" fill="#c0c0c0"/>
<rect x="419" y="461" width="3" height="26" fill="#c0c0c0"/>
<rect x="423" y="461" width="3" height="26" fill="#c0c0c0"/>
<rect x="427" y="461" width="3" height="26" fill="#c0c0c0"/>
<rect x="431" y="461" width="3" height="25" fill="#c0c0c0"/>
<rect x="435" y="461" width="3" height="24" fill="#c0c0c0"/>
<rect x="439" y="461" width="3" height="24" fill="#c0c0c0"/>
<rect x="443" y="461" width="3" height="21" fill="#c0c0c0"/>
<rect x="447" y="461" width="3" height="15" fill="#c0c0c0"/>
<rect x="451" y="461" width="3" height="11" fill="#c0c0c0"/>
<rect x="455" y="461" width="3" height="7" fill="#c0c0c0"/>
<rect x="459" y="461" width="3" height="2" fill="#c0c0c0"/>
<rect x="463" y="453" width="3" height="8" fill="#c0c0c0"/>
<rect x="467" y="449" width="3" height="12" fill="#c0c0c0"/>
<rect x="471" y="447" width="3" height="14" fill="#c0c0c0"/>
<rect x="475" y="444" width="3" height="17" fill="#c0c0c0"/>
<rect x="479" y="441" width="3" height="20" fill="#c0c0c0"/>
<rect x="483" y="438" width="3" height="23" fill="#c0c0c0"/>
<rect x="487" y="434" width="3" height="27" fill="#c0c0c0"/>
<rect x="491" y="432" width="3" height="29" fill="#c0c0c0"/>
<rect x="495" y="429" width="3" height="32" fill="#c0c0c0"/>
<rect x="499" y="436" width="3" height="25" fill="#c0c0c0"/>
<rect x="503" y="440" width="3" height="21" fill="#c0c0c0"/>
<rect x="507" y="444" width="3" height="17" fill="#c0c0c0"/>
<rect x="511" y="450" width="3" height="11" fill="#c0c0c0"/>
<rect x="515" y="454" width="3" height="7" fill="#c0c0c0"/>
<rect x="519" y="457" width="3" height="4" fill="#c0c0c0"/>
<rect x="523" y="461" width="3" height="1" fill="#c0c0c0"/>
<rect x="527" y="461" width="3" height="5" fill="#c0c0c0"/>
<rect x="531" y="461" width="3" height="3" fill="#c0c0c0"/>
<rect x="535" y="461" width="3" height="1" fill="#c0c0c0"/>
<rect x="539" y="461" width="3" height="3" fill="#c0c0c0"/>
<rect x="543" y="461" width="3" height="3" fill="#c0c0c0"/>
<rect x="547" y="461" width="3" height="4" fill="#c0c0c0"/>
<rect x="551" y="461" width="3" height="4" fill="#c0c0c0"/>
<rect x="555" y="461" width="3" height="3" fill="#c0c0c0"/>
<rect x="559" y="461" width="3" height="1" fill="#c0c0c0"/>
<rect x="563" y="460" width="3" height="1" fill="#c0c0c0"/>
<rect x="567" y="461" width="3" height="3" fill="#c0c0c0"/>
<rect x="571" y="461" width="3" height="2" fill="#c0c0c0"/>
<rect x="575" y="461" width="3" height="2" fill="#c0c0c0"/>
<rect x="579" y="461" width="3" height="2" fill="#c0c0c0"/>
<rect x="583" y="461" width="3" height="2" fill="#c0c0c0"/>
<rect x="587" y="461" width="3" height="3" fill="#c0c0c0"/>
<rect x="591" y="461" width="3" height="5" fill="#c0c0c0"/>
<rect x="595" y="461" width="3" height="7" fill="#c0c0c0"/>
<rect x="599" y="461" width="3" height="8" fill="#c0c0c0"/>
<rect x="603" y="461" width="3" height="9" fill="#c0c0c0"/>
<rect x="607" y="461" width="3" height="12" fill="#c0c0c0"/>
<rect x="611" y="461" width="3" height="14" fill="#c0c0c0"/>
<rect x="615" y="461" width="3" height="16" fill="#c0c0c0"/>
<rect x="619" y="461" width="3" height="19" fill="#c0c0c0"/>
<rect x="623" y="461" width="3" height="21" fill="#c0c0c0"/>
<rect x="627" y="461" width="3" height="18" fill="#c0c0c0"/>
<rect x="631" y="461" width="3" height="17" fill="#c0c0c0"/>
<rect x="635" y="461" width="3" height="15" fill="#c0c0c0"/>
<rect x="639" y="461" width="3" height="12" fill="#c0c0c0"/>
<rect x="643" y="461" width="3" height="9" fill="#c0c0c0"/>
<rect x="647" y="461" width="3" height="8" fill="#c0c0c0"/>
<rect x="651" y="461" width="3" height="2" fill="#c0c0c0"/>
<rect x="655" y="459" width="3" height="2" fill="#c0c0c0"/>
<rect x="659" y="461" width="3" height="3" fill="#c0c0c0"/>
<rect x="663" y="461" width="3" height="8" fill="#c0c0c0"/>
<rect x="667" y="461" width="3" height="10" fill="#c0c0c0"/>
<rect x="671" y="461" width="3" height="11" fill="#c0c0c0"/>
<rect x="675" y="461" width="3" height="11" fill="#c0c0c0"/>
<rect x="679" y="461" width="3" height="11" fill="#c0c0c0"/>
<rect x="683" y="461" width="3" height="10" fill="#c0c0c0"/>
<rect x="687" y="461" width="3" height="10" fill="#c0c0c0"/>
<rect x="691" y="461" width="3" height="12" fill="#c0c0c0"/>
<rect x="695" y="461" width="3" height="13" fill="#c0c0c0"/>
<rect x="699" y="461" width="3" height="13" fill="#c0c0c0"/>
<rect x="703" y="461" width="3" height="9" fill="#c0c0c0"/>
<rect x="707" y="461" width="3" height="2" fill="#c0c0c0"/>
<rect x="711" y="455" width="3" height="6" fill="#c0c0c0"/>
<rect x="715" y="448" width="3" height="13" fill="#c0c0c0"/>
<rect x="719" y="442" width="3" height="19" fill="#c0c0c0"/>
<rect x="723" y="441" width="3" height="20" fill="#c0c0c0"/>
<rect x="727" y="444" width="3" height="17" fill="#c0c0c0"/>
<rect x="731" y="447" width="3" height="14" fill="#c0c0c0"/>
<rect x="735" y="449" width="3" height="12" fill="#c0c0c0"/>
<rect x="739" y="448" width="3" height="13" fill="#c0c0c0"/>
<rect x="743" y="447" width="3" height="14" fill="#c0c0c0"/>
<rect x="747" y="448" width="3" height="13" fill="#c0c0c0"/>
<rect x="751" y="448" width="3" height="13" fill="#c0c0c0"/>
<rect x="755" y="448" width="3" height="13" fill="#c0c0c0"/>
<rect x="759" y="448" width="3" height="13" fill="#c0c0c0"/>
<rect x="763" y="449" width="3" height="12" fill="#c0c0c0"/>
<rect x="767" y="449" width="3" height="12" fill="#c0c0c0"/>
<rect x="771" y="449" width="3" height="12" fill="#c0c0c0"/>
<rect x="775" y="449" width="3" height="12" fill="#c0c0c0"/>
<rect x="779" y="451" width="3" height="10" fill="#c0c0c0"/>
<rect x="783" y="454" width="3" height="7" fill="#c0c0c0"/>
<rect x="787" y="456" width="3" height="5" fill="#c0c0c0"/>
<rect x="791" y="458" width="3" height="3" fill="#c0c0c0"/>
<rect x="795" y="461" width="3" height="3" fill="#c0c0c0"/>
<rect x="799" y="461" width="3" height="3" fill="#c0c0c0"/>
<rect x="803" y="461" width="3" height="6" fill="#c0c0c0"/>
<rect x="807" y="461" width="3" height="1" fill="#c0c0c0"/>
<rect x="811" y="460" width="3" height="1" fill="#c0c0c0"/>
<rect x="815" y="456" width="3" height="5" fill="#c0c0c0"/>
<rect x="823" y="461" width="3" height="3" fill="#c0c0c0"/>
<rect x="827" y="461" width="3" height="3" fill="#c0c0c0"/>
<rect x="831" y="461" width="3" height="5" fill="#c0c0c0"/>
<rect x="835" y="461" width="3" height="7" fill="#c0c0c0"/>
<rect x="839" y="461" width="3" height="7" fill="#c0c0c0"/>
<rect x="843" y="461" width="3" height="2" fill="#c0c0c0"/>
<rect x="847" y="457" width="3" height="4" fill="#c0c0c0"/>
<rect x="851" y="455" width="3" height="6" fill="#c0c0c0"/>
<rect x="855" y="452" width="3" height="9" fill="#c0c0c0"/>
<rect x="859" y="446" width="3" height="15" fill="#c0c0c0"/>
<rect x="863" y="441" width="3" height="20" fill="#c0c0c0"/>
<rect x="867" y="436" width="3" height="25" fill="#c0c0c0"/>
<rect x="871" y="430" width="3" height="31" fill="#c0c0c0"/>
<rect x="875" y="426" width="3" height="35" fill="#c0c0c0"/>
<rect x="879" y="426" width="3" height="35" fill="#c0c0c0"/>
<rect x="883" y="429" width="3" height="32" fill="#c0c0c0"/>
<rect x="887" y="432" width="3" height="29" fill="#c0c0c0"/>
<rect x="891" y="433" width="3" height="28" fill="#c0c0c0"/>
<rect x="895" y="435" width="3" height="26" fill="#c0c0c0"/>
<rect x="899" y="438" width="3" height="23" fill="#c0c0c0"/>
<rect x="903" y="442" width="3" height="19" fill="#c0c0c0"/>
<rect x="907" y="444" width="3" height="17" fill="#c0c0c0"/>
<rect x="911" y="446" width="3" height="15" fill="#c0c0c0"/>
<rect x="915" y="446" width="3" height="15" fill="#c0c0c0"/>
<rect x="919" y="448" width="3" height="13" fill="#c0c0c0"/>
<rect x="923" y="454" width="3" height="7" fill="#c0c0c0"/>
<polyline points="4,422.3 8,422.3 12,422.3 16,422.3 20,423.0 24,425.5 28,428.5 32,431.1 36,433.9 40,436.6 44,439.6 48,442.7 52,445.2 56,447.0 60,448.2 64,448.8 68,449.2 72,449.5 76,449.9 80,450.7 84,452.0 88,454.0 92,456.9 96,460.2 100,463.6 104,467.2 108,470.7 112,474.1 116,476.9 120,478.1 124,477.7 128,476.3 132,474.0 136,470.6 140,467.1 144,463.6 148,460.2 152,458.0 156,456.3 160,455.1 164,454.7 168,454.7 172,455.1 176,455.9 180,456.6 184,457.0 188,457.4 192,458.0 196,458.9 200,459.8 204,460.5 208,461.0 212,461.3 216,461.6 220,461.7 224,461.5 228,460.5 232,459.7 236,459.2 240,458.6 244,457.7 248,456.5 252,455.1 256,453.5 260,451.3 264,449.0 268,446.5 272,443.9 276,441.7 280,440.2 284,438.9 288,437.9 292,437.4 296,437.7 300,438.0 304,438.0 308,438.0 312,437.9 316,438.0 320,438.0 324,438.2 328,438.3 332,438.8 336,440.0 340,441.7 344,443.2 348,444.8 352,446.4 356,448.1 360,449.8 364,451.5 368,453.2 372,455.3 376,457.8 380,460.7 384,463.4 388,465.8 392,468.0 396,470.1 400,472.2 404,474.4 408,476.4 412,478.2 416,479.5 420,480.7 424,481.8 428,482.9 432,483.7 436,484.0 440,484.1 444,484.1 448,483.4 452,481.9 456,479.7 460,477.2 464,473.8 468,469.7 472,465.5 476,461.3 480,457.1 484,453.1 488,448.9 492,444.5 496,440.7 500,439.0 504,438.3 508,438.0 512,438.3 516,439.3 520,441.5 524,444.5 528,448.1 532,452.0 536,455.0 540,457.6 544,459.8 548,461.4 552,462.2 556,462.5 560,462.5 564,462.2 568,462.2 572,462.2 576,462.2 580,462.1 584,462.0 588,462.0 592,462.1 596,462.6 600,463.4 604,464.2 608,465.2 612,466.6 616,468.4 620,470.4 624,472.3 628,473.5 632,474.5 636,475.2 640,475.6 644,475.5 648,474.6 652,472.9 656,470.8 660,468.9 664,467.8 668,467.1 672,466.6 676,466.4 680,466.5 684,466.8 688,467.7 692,468.8 696,470.0 700,470.7 704,470.7 708,470.2 712,468.5 716,465.8 720,462.8 724,459.5 728,456.5 732,453.8 736,451.4 740,449.1 744,447.2 748,446.3 752,446.4 756,446.9 760,447.6 764,448.2 768,448.4 772,448.4 776,448.5 780,448.7 784,449.2 788,450.1 792,451.2 796,452.7 800,454.4 804,456.3 808,457.7 812,459.0 816,459.9 820,460.6 824,461.1 828,461.6 832,461.8 836,462.0 840,462.1 844,462.1 848,462.0 852,462.0 856,461.3 860,459.6 864,457.4 868,454.6 872,450.9 876,446.8 880,443.0 884,439.2 888,435.6 892,433.2 896,432.4 900,432.1 904,432.4 908,433.6 912,435.8 916,438.0 920,440.2 924,442.8" fill="none" stroke="#ff0000" stroke-width="1" shape-rendering="crispEdges"/>
<text x="8.6" y="429.5" font-size="9.6" fill="#000" stroke="#000" stroke-width="0.25" textLength="147" lengthAdjust="spacingAndGlyphs">MACD(12,26,9) 0.000874 0.002325</text>
<rect x="1167" y="419" width="2" height="1" fill="#000"/>
<rect x="1167" y="461" width="2" height="1" fill="#000"/>
<rect x="1167" y="487" width="2" height="1" fill="#000"/>
<text x="1170.4" y="427.7" font-size="9.6" fill="#000" stroke="#000" stroke-width="0.25" textLength="39" lengthAdjust="spacingAndGlyphs">0.005489</text>
<text x="1170.6" y="464.6" font-size="9.6" fill="#000" stroke="#000" stroke-width="0.25" textLength="17" lengthAdjust="spacingAndGlyphs">0.00</text>
<text x="1170.2" y="486.1" font-size="9.6" fill="#000" stroke="#000" stroke-width="0.25" textLength="43" lengthAdjust="spacingAndGlyphs">-0.003641</text>
<line x1="5" y1="514.5" x2="1166" y2="514.5" stroke="#b4b4b4" stroke-width="1" stroke-dasharray="3,3" shape-rendering="crispEdges"/>
<line x1="5" y1="543.5" x2="1166" y2="543.5" stroke="#b4b4b4" stroke-width="1" stroke-dasharray="3,3" shape-rendering="crispEdges"/>
<polyline points="4,519.4 8,517.4 12,515.8 16,529.7 20,530.1 24,530.1 28,528.7 32,525.4 36,530.1 40,526.8 44,525.4 48,526.4 52,526.4 56,523.8 60,528.1 64,526.4 68,525.4 72,526.2 76,530.7 80,531.7 84,535.7 88,540.1 92,539.3 96,539.3 100,539.7 104,541.3 108,537.7 112,536.1 116,525.8 120,525.4 124,520.2 128,518.4 132,519.8 136,519.4 140,528.1 144,528.1 148,531.3 152,528.7 156,526.8 160,525.4 164,525.8 168,526.8 172,532.1 176,531.3 180,530.1 184,525.8 188,532.3 192,532.3 196,526.8 200,528.1 204,528.1 208,529.3 212,530.1 216,530.1 220,528.1 224,523.8 228,521.4 232,528.1 236,526.4 240,526.4 244,522.2 248,525.4 252,525.4 256,518.8 260,515.4 264,514.8 268,520.8 272,526.2 276,523.4 280,525.4 284,525.4 288,525.4 292,524.2 296,521.4 300,517.4 304,519.4 308,521.8 312,522.8 316,528.1 320,525.4 324,526.2 328,525.4 332,527.4 336,526.4 340,526.4 344,523.4 348,531.3 352,530.3 356,532.1 360,531.3 364,531.3 368,531.7 372,536.1 376,537.3 380,539.3 384,538.1 388,533.3 392,533.3 396,534.7 400,541.3 404,536.7 408,535.3 412,540.7 416,533.3 420,536.1 424,535.3 428,535.3 432,535.3 436,533.3 440,536.1 444,528.7 448,524.2 452,525.4 456,525.4 460,521.4 464,517.4 468,519.4 472,522.8 476,520.8 480,519.8 484,517.4 488,516.8 492,515.8 496,514.8 500,530.7 504,529.3 508,530.7 512,533.3 516,532.1 520,532.1 524,533.7 528,532.7 532,526.2 536,527.4 540,531.3 544,528.1 548,529.7 552,530.3 556,529.3 560,527.4 564,527.4 568,532.7 572,527.4 576,528.1 580,529.7 584,528.1 588,532.1 592,533.3 596,532.3 600,532.3 604,534.1 608,534.7 612,538.1 616,538.1 620,540.1 624,538.7 628,529.7 632,532.1 636,530.1 640,525.8 644,529.3 648,527.8 652,520.2 656,523.8 660,532.7 664,535.3 668,533.7 672,532.3 676,532.3 680,529.3 684,531.3 688,529.3 692,534.1 696,533.3 700,531.3 704,526.8 708,522.2 712,517.4 716,517.4 720,517.4 724,523.4 728,527.8 732,530.1 736,529.3 740,524.2 744,525.4 748,527.4 752,525.4 756,526.8 760,524.2 764,525.4 768,526.4 772,526.4 776,525.4 780,530.1 784,532.1 788,530.7 792,530.7 796,536.7 800,529.3 804,533.3 808,525.4 812,524.2 816,524.8 820,533.3 824,532.1 828,530.7 832,532.1 836,532.1 840,530.1 844,525.4 848,521.4 852,525.4 856,522.8 860,519.8 864,519.4 868,516.8 872,514.8 876,514.8 880,520.8 884,526.2 888,525.4 892,524.8 896,524.8 900,526.8 904,529.3 908,527.4 912,527.4 916,524.8 920,526.8 924,535.5" fill="none" stroke="#1e90ff" stroke-width="1" shape-rendering="crispEdges"/>
<text x="8.7" y="503.6" font-size="9.6" fill="#000" stroke="#000" stroke-width="0.25" textLength="66.6" lengthAdjust="spacingAndGlyphs">RSI(14) 40.7200</text>
<rect x="1167" y="492" width="2" height="1" fill="#000"/>
<rect x="1167" y="514" width="2" height="1" fill="#000"/>
<rect x="1167" y="543" width="2" height="1" fill="#000"/>
<rect x="1167" y="564" width="2" height="1" fill="#000"/>
<text x="1170.6" y="501.8" font-size="9.6" fill="#000" stroke="#000" stroke-width="0.25" textLength="14.4" lengthAdjust="spacingAndGlyphs">100</text>
<text x="1170.6" y="518" font-size="9.6" fill="#000" stroke="#000" stroke-width="0.25" textLength="8.6" lengthAdjust="spacingAndGlyphs">70</text>
<text x="1170.6" y="547" font-size="9.6" fill="#000" stroke="#000" stroke-width="0.25" textLength="8.6" lengthAdjust="spacingAndGlyphs">30</text>
<text x="1170.6" y="561.7" font-size="9.6" fill="#000" stroke="#000" stroke-width="0.25" textLength="4.4" lengthAdjust="spacingAndGlyphs">0</text>
<rect x="4" y="566" width="1" height="3" fill="#000"/>
<text x="3" y="578" font-size="9.4" fill="#000" stroke="#000" stroke-width="0.2" textLength="42.2" lengthAdjust="spacingAndGlyphs">5 Jul 2021</text>
<rect x="68" y="566" width="1" height="3" fill="#000"/>
<text x="67" y="578" font-size="9.4" fill="#000" stroke="#000" stroke-width="0.2" textLength="47.3" lengthAdjust="spacingAndGlyphs">23 Jul 2021</text>
<rect x="132" y="566" width="1" height="3" fill="#000"/>
<text x="131" y="578" font-size="9.4" fill="#000" stroke="#000" stroke-width="0.2" textLength="51.2" lengthAdjust="spacingAndGlyphs">11 Aug 2021</text>
<rect x="196" y="566" width="1" height="3" fill="#000"/>
<text x="195" y="578" font-size="9.4" fill="#000" stroke="#000" stroke-width="0.2" textLength="51.9" lengthAdjust="spacingAndGlyphs">30 Aug 2021</text>
<rect x="260" y="566" width="1" height="3" fill="#000"/>
<text x="259" y="578" font-size="9.4" fill="#000" stroke="#000" stroke-width="0.2" textLength="51.9" lengthAdjust="spacingAndGlyphs">17 Sep 2021</text>
<rect x="324" y="566" width="1" height="3" fill="#000"/>
<text x="323" y="578" font-size="9.4" fill="#000" stroke="#000" stroke-width="0.2" textLength="44.8" lengthAdjust="spacingAndGlyphs">6 Oct 2021</text>
<rect x="388" y="566" width="1" height="3" fill="#000"/>
<text x="387" y="578" font-size="9.4" fill="#000" stroke="#000" stroke-width="0.2" textLength="49.9" lengthAdjust="spacingAndGlyphs">25 Oct 2021</text>
<rect x="452" y="566" width="1" height="3" fill="#000"/>
<text x="451" y="578" font-size="9.4" fill="#000" stroke="#000" stroke-width="0.2" textLength="51.9" lengthAdjust="spacingAndGlyphs">12 Nov 2021</text>
<rect x="516" y="566" width="1" height="3" fill="#000"/>
<text x="515" y="578" font-size="9.4" fill="#000" stroke="#000" stroke-width="0.2" textLength="46.8" lengthAdjust="spacingAndGlyphs">1 Dec 2021</text>
<rect x="580" y="566" width="1" height="3" fill="#000"/>
<text x="579" y="578" font-size="9.4" fill="#000" stroke="#000" stroke-width="0.2" textLength="51.9" lengthAdjust="spacingAndGlyphs">20 Dec 2021</text>
<rect x="644" y="566" width="1" height="3" fill="#000"/>
<text x="643" y="578" font-size="9.4" fill="#000" stroke="#000" stroke-width="0.2" textLength="45.3" lengthAdjust="spacingAndGlyphs">7 Jan 2022</text>
<rect x="708" y="566" width="1" height="3" fill="#000"/>
<text x="707" y="578" font-size="9.4" fill="#000" stroke="#000" stroke-width="0.2" textLength="50.4" lengthAdjust="spacingAndGlyphs">26 Jan 2022</text>
<rect x="772" y="566" width="1" height="3" fill="#000"/>
<text x="771" y="578" font-size="9.4" fill="#000" stroke="#000" stroke-width="0.2" textLength="51.4" lengthAdjust="spacingAndGlyphs">14 Feb 2022</text>
<rect x="836" y="566" width="1" height="3" fill="#000"/>
<text x="835" y="578" font-size="9.4" fill="#000" stroke="#000" stroke-width="0.2" textLength="46.3" lengthAdjust="spacingAndGlyphs">4 Mar 2022</text>
<rect x="900" y="566" width="1" height="3" fill="#000"/>
<text x="899" y="578" font-size="9.4" fill="#000" stroke="#000" stroke-width="0.2" textLength="51.4" lengthAdjust="spacingAndGlyphs">23 Mar 2022</text>
<rect x="0" y="586" width="1208" height="1" fill="#e3e3e3"/>
<rect x="0" y="588" width="1208" height="1" fill="#000"/>
<rect x="0" y="589" width="1208" height="17" fill="#f0f0f0"/>
<rect x="0" y="606" width="1208" height="5" fill="#f0f0f0"/>
<rect x="0" y="608" width="1208" height="1" fill="#fbfbfb"/>
<rect x="0" y="589" width="1" height="17" fill="#5a5a5a"/>
<rect x="105" y="591" width="1" height="14" fill="#5a5a5a"/>
<rect x="213" y="591" width="1" height="14" fill="#5a5a5a"/>
<rect x="537" y="591" width="1" height="14" fill="#5a5a5a"/>
<rect x="662" y="591" width="1" height="14" fill="#5a5a5a"/>
<rect x="757" y="591" width="1" height="14" fill="#5a5a5a"/>
<rect x="837" y="591" width="1" height="14" fill="#5a5a5a"/>
<rect x="925" y="591" width="1" height="14" fill="#5a5a5a"/>
<rect x="1009" y="591" width="1" height="14" fill="#5a5a5a"/>
<rect x="1089" y="591" width="1" height="14" fill="#5a5a5a"/>
<rect x="1165" y="591" width="1" height="14" fill="#5a5a5a"/>
<rect x="321" y="588" width="108" height="18" fill="#ffffff"/>
<rect x="321" y="588" width="1" height="19" fill="#000"/>
<rect x="428" y="588" width="1" height="19" fill="#000"/>
<rect x="321" y="606" width="108" height="1" fill="#000"/>
<text x="16.4" y="603" font-size="12.5" fill="#6d6d6d" stroke="#6d6d6d" stroke-width="0" textLength="77.4" lengthAdjust="spacingAndGlyphs">USDX,Weekly</text>
<text x="116.6" y="603" font-size="12.5" fill="#6d6d6d" stroke="#6d6d6d" stroke-width="0" textLength="84.3" lengthAdjust="spacingAndGlyphs">EURUSD-,Daily</text>
<text x="223.1" y="603" font-size="12.5" fill="#6d6d6d" stroke="#6d6d6d" stroke-width="0" textLength="86.6" lengthAdjust="spacingAndGlyphs">AUDUSD-,Daily</text>
<text x="333.5" y="603" font-size="12.5" fill="#000" stroke="#000" stroke-width="0" textLength="83.3" lengthAdjust="spacingAndGlyphs">USDCHF-,Daily</text>
<text x="440.3" y="603" font-size="12.5" fill="#6d6d6d" stroke="#6d6d6d" stroke-width="0" textLength="85.8" lengthAdjust="spacingAndGlyphs">USDCAD-,Daily</text>
<text x="548.6" y="603" font-size="12.5" fill="#6d6d6d" stroke="#6d6d6d" stroke-width="0" textLength="101.6" lengthAdjust="spacingAndGlyphs">USDCNH-,Weekly</text>
<text x="672" y="603" font-size="12.5" fill="#6d6d6d" stroke="#6d6d6d" stroke-width="0" textLength="73.8" lengthAdjust="spacingAndGlyphs">XAUUSD-,H1</text>
<text x="768.3" y="603" font-size="12.5" fill="#6d6d6d" stroke="#6d6d6d" stroke-width="0" textLength="56.2" lengthAdjust="spacingAndGlyphs">UKOil-,H1</text>
<text x="849.1" y="603" font-size="12.5" fill="#6d6d6d" stroke="#6d6d6d" stroke-width="0" textLength="64.0" lengthAdjust="spacingAndGlyphs">DJ30-,Daily</text>
<text x="936.9" y="603" font-size="12.5" fill="#6d6d6d" stroke="#6d6d6d" stroke-width="0" textLength="60.9" lengthAdjust="spacingAndGlyphs">UK100-,H1</text>
<text x="1021.8" y="603" font-size="12.5" fill="#6d6d6d" stroke="#6d6d6d" stroke-width="0" textLength="54.9" lengthAdjust="spacingAndGlyphs">USOil-,H1</text>
<text x="1099.5" y="603" font-size="12.5" fill="#6d6d6d" stroke="#6d6d6d" stroke-width="0" textLength="54.2" lengthAdjust="spacingAndGlyphs">HK50-,H1</text>
<path d="M1185,594 L1181.5,597.5 L1185,601 Z" fill="#8c8c8c"/>
<path d="M1201,594 L1204.5,597.5 L1201,601 Z" fill="#8c8c8c"/>
</svg>

<div id="tp">
 <div class="sellt"><span>SELL</span></div>
 <div class="lot"><div class="dn"><i></i></div><div class="val">0.50</div><div class="up"><i></i></div></div>
 <div class="buyt"><span>BUY</span></div>
 <div class="sellb"><span class="sm">0.92</span><span class="big">30</span><span class="sup">7</span></div>
 <div class="buyb"><span class="sm">0.92</span><span class="big">33</span><span class="sup">0</span></div>
 <div class="ln" style="left:58px;top:68px;width:58px;background:#b00000"></div>
 <div class="ln" style="left:118px;top:68px;width:57px;background:#b00000"></div>
 <div class="ln" style="z-index:3;left:11px;top:67px;width:45px;background:#800000"></div>
 <div class="ln" style="z-index:3;left:11px;top:68px;width:45px;background:#ff6464"></div>
 <div class="ln" style="z-index:3;left:178px;top:67px;width:45px;background:#800000"></div>
 <div class="ln" style="z-index:3;left:178px;top:68px;width:45px;background:#ff6464"></div>
</div>
</body></html>
